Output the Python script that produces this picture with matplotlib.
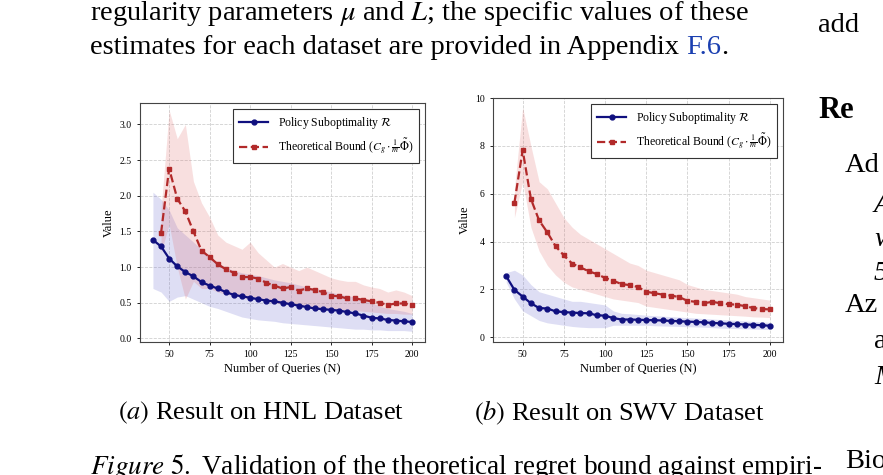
import matplotlib
matplotlib.use("Agg")
import matplotlib.pyplot as plt
import numpy as np

plt.rcParams['font.family'] = ['Liberation Serif', 'DejaVu Serif']
plt.rcParams['mathtext.fontset'] = 'stix'

x_blue = list(range(40, 205, 5))
x_red = list(range(45, 205, 5))

hnl_blue = [1.38,1.29,1.12,1.01,0.93,0.87,0.79,0.74,0.70,0.65,0.61,0.59,0.57,0.55,0.53,0.52,0.50,0.48,0.46,0.44,0.42,0.41,0.40,0.39,0.37,0.35,0.32,0.29,0.28,0.26,0.25,0.24,0.23]
hnl_blue_lo = [0.70,0.65,0.52,0.58,0.60,0.55,0.50,0.45,0.42,0.38,0.34,0.30,0.28,0.26,0.25,0.24,0.22,0.21,0.20,0.19,0.18,0.17,0.16,0.15,0.14,0.13,0.13,0.12,0.12,0.11,0.11,0.11,0.10]
hnl_blue_hi = [2.05,1.95,1.80,1.55,1.45,1.35,1.25,1.15,1.05,1.00,0.95,0.92,0.90,0.88,0.85,0.82,0.80,0.78,0.75,0.72,0.70,0.68,0.65,0.62,0.60,0.58,0.55,0.50,0.45,0.42,0.40,0.38,0.35]
hnl_red = [1.48,2.38,1.96,1.78,1.50,1.23,1.14,1.04,0.97,0.92,0.86,0.86,0.84,0.78,0.74,0.70,0.72,0.67,0.70,0.68,0.65,0.60,0.59,0.56,0.56,0.54,0.52,0.50,0.47,0.49,0.49,0.47]
hnl_red_lo = [1.2,1.6,1.0,0.55,0.8,0.7,0.7,0.65,0.62,0.6,0.58,0.55,0.55,0.52,0.5,0.48,0.48,0.46,0.46,0.44,0.43,0.42,0.41,0.4,0.39,0.38,0.37,0.36,0.35,0.35,0.34,0.34]
hnl_red_hi = [1.8,3.2,2.8,3.0,2.2,1.9,1.7,1.45,1.35,1.3,1.25,1.35,1.2,1.1,1.0,1.05,1.0,0.95,1.0,0.95,0.9,0.85,0.82,0.8,0.8,0.75,0.72,0.7,0.65,0.68,0.65,0.6]

swv_blue = [2.55,1.98,1.70,1.42,1.22,1.20,1.08,1.05,1.03,1.01,1.00,0.92,0.90,0.80,0.74,0.74,0.73,0.72,0.71,0.70,0.68,0.67,0.65,0.64,0.62,0.60,0.58,0.56,0.55,0.53,0.52,0.50,0.48]
swv_blue_lo = [2.3,1.6,1.1,0.9,0.7,0.6,0.55,0.5,0.45,0.42,0.4,0.4,0.4,0.5,0.5,0.5,0.5,0.5,0.48,0.47,0.46,0.45,0.44,0.43,0.42,0.4,0.38,0.37,0.36,0.35,0.34,0.33,0.32]
swv_blue_hi = [2.7,2.8,2.6,2.2,1.9,1.8,1.7,1.6,1.5,1.5,1.45,1.4,1.35,1.1,1.0,0.98,0.95,0.92,0.9,0.88,0.86,0.84,0.82,0.8,0.78,0.76,0.74,0.72,0.70,0.68,0.66,0.64,0.62]
swv_red = [5.62,7.82,5.78,4.88,4.38,3.80,3.42,3.08,2.92,2.76,2.64,2.48,2.36,2.22,2.18,2.10,1.90,1.84,1.78,1.74,1.68,1.52,1.48,1.42,1.48,1.42,1.38,1.36,1.30,1.22,1.18,1.16]
swv_red_lo = [5.0,6.5,4.6,3.6,3.0,2.6,2.3,2.1,2.0,1.9,1.8,1.7,1.6,1.55,1.5,1.45,1.3,1.25,1.2,1.15,1.1,1.05,1.0,0.98,0.96,0.94,0.92,0.90,0.88,0.85,0.84,0.82]
swv_red_hi = [6.2,9.6,8.0,6.5,6.2,5.6,5.0,4.6,4.3,4.1,3.9,3.7,3.5,3.3,3.1,3.0,2.8,2.7,2.6,2.5,2.4,2.2,2.1,2.0,1.95,1.9,1.85,1.8,1.7,1.65,1.6,1.55]

BLUE = '#10107f'
RED = '#b22a2a'

fig = plt.figure(figsize=(8.83, 4.75), dpi=100)
W, H = 883, 475

def axrect(l, t, r, b):
    return [l / W, 1 - b / H, (r - l) / W, (b - t) / H]

def panel(ax, b, blo, bhi, r, rlo, rhi, yticks, ylim, fmt):
    ax.fill_between(x_blue, blo, bhi, color='#6a6ad0', alpha=0.22, lw=0)
    ax.fill_between(x_red, rlo, rhi, color='#e07070', alpha=0.22, lw=0)
    ax.plot(x_blue, b, '-o', color=BLUE, ms=3.5, lw=1.6, label=r'Policy Suboptimality $\mathcal{R}$')
    ax.plot(x_red, r, '--s', color=RED, ms=3.5, lw=1.6, label=r'Theoretical Bound ($C_g \cdot \frac{1}{m}\tilde{\Phi}$)')
    ax.set_xlim(32, 208)
    ax.set_ylim(*ylim)
    ax.set_xticks([50, 75, 100, 125, 150, 175, 200])
    ax.set_yticks(yticks)
    ax.set_yticklabels([fmt.format(v) for v in yticks])
    ax.tick_params(labelsize=7, length=2.5, width=0.6)
    ax.grid(True, ls='--', color='#d0d0d0', lw=0.6)
    ax.set_axisbelow(True)
    for s in ax.spines.values():
        s.set_color('#444444'); s.set_linewidth(0.8)
    ax.set_xlabel('Number of Queries (N)', fontsize=9, labelpad=2)
    ax.set_ylabel('Value', fontsize=9, labelpad=3)
    leg = ax.legend(loc='upper right', fontsize=8.5, fancybox=False, edgecolor='#333333', framealpha=1,
                    borderpad=0.5, handlelength=2.5)
    leg.get_frame().set_linewidth(0.8)

ax1 = fig.add_axes(axrect(140, 103, 425, 342))
panel(ax1, hnl_blue, hnl_blue_lo, hnl_blue_hi, hnl_red, hnl_red_lo, hnl_red_hi,
      [0.0, 0.5, 1.0, 1.5, 2.0, 2.5, 3.0], (-0.05, 3.3), '{:.1f}')
ax2 = fig.add_axes(axrect(493, 98, 783, 342))
panel(ax2, swv_blue, swv_blue_lo, swv_blue_hi, swv_red, swv_red_lo, swv_red_hi,
      [0, 2, 4, 6, 8, 10], (-0.2, 10.0), '{:d}')

BODY = 20.5
def T(x, y, s, **kw):
    kw.setdefault('fontsize', BODY)
    return fig.text(x / W, 1 - y / H, s, va='center', **kw)

T(90, 14, r'regularity parameters $\mu$ and $L$; the specific values of these')
t1 = T(90, 48, 'estimates for each dataset are provided in Appendix ')
fig.canvas.draw()
r = fig.canvas.get_renderer()
ext = t1.get_window_extent(r)
t2 = fig.text(ext.x1 / W, 1 - 48 / H, 'F.6', color='#1a3fb0', fontsize=BODY, va='center')
ext2 = t2.get_window_extent(r)
fig.text(ext2.x1 / W, 1 - 48 / H, '.', fontsize=BODY, va='center')
T(818, 26, 'add')
T(818, 110, 'Re', fontweight='bold', fontsize=22)
T(845, 165, 'Ad')
T(874, 205, 'A', style='italic')
T(874, 240, 'w', style='italic')
T(874, 273, '5', style='italic')
T(845, 305, 'Az')
T(874, 342, 'a')
T(874, 377, 'M', style='italic')
T(845, 462, 'Bio')
T(118, 413, r'$\it{(a)}$ Result on HNL Dataset', fontsize=19)
T(474, 413, r'$\it{(b)}$ Result on SWV Dataset', fontsize=19)
T(90, 467, r'$\it{Figure\ 5.}$ Validation of the theoretical regret bound against empiri-', fontsize=19.5)

fig.savefig('out.png', dpi=100)
